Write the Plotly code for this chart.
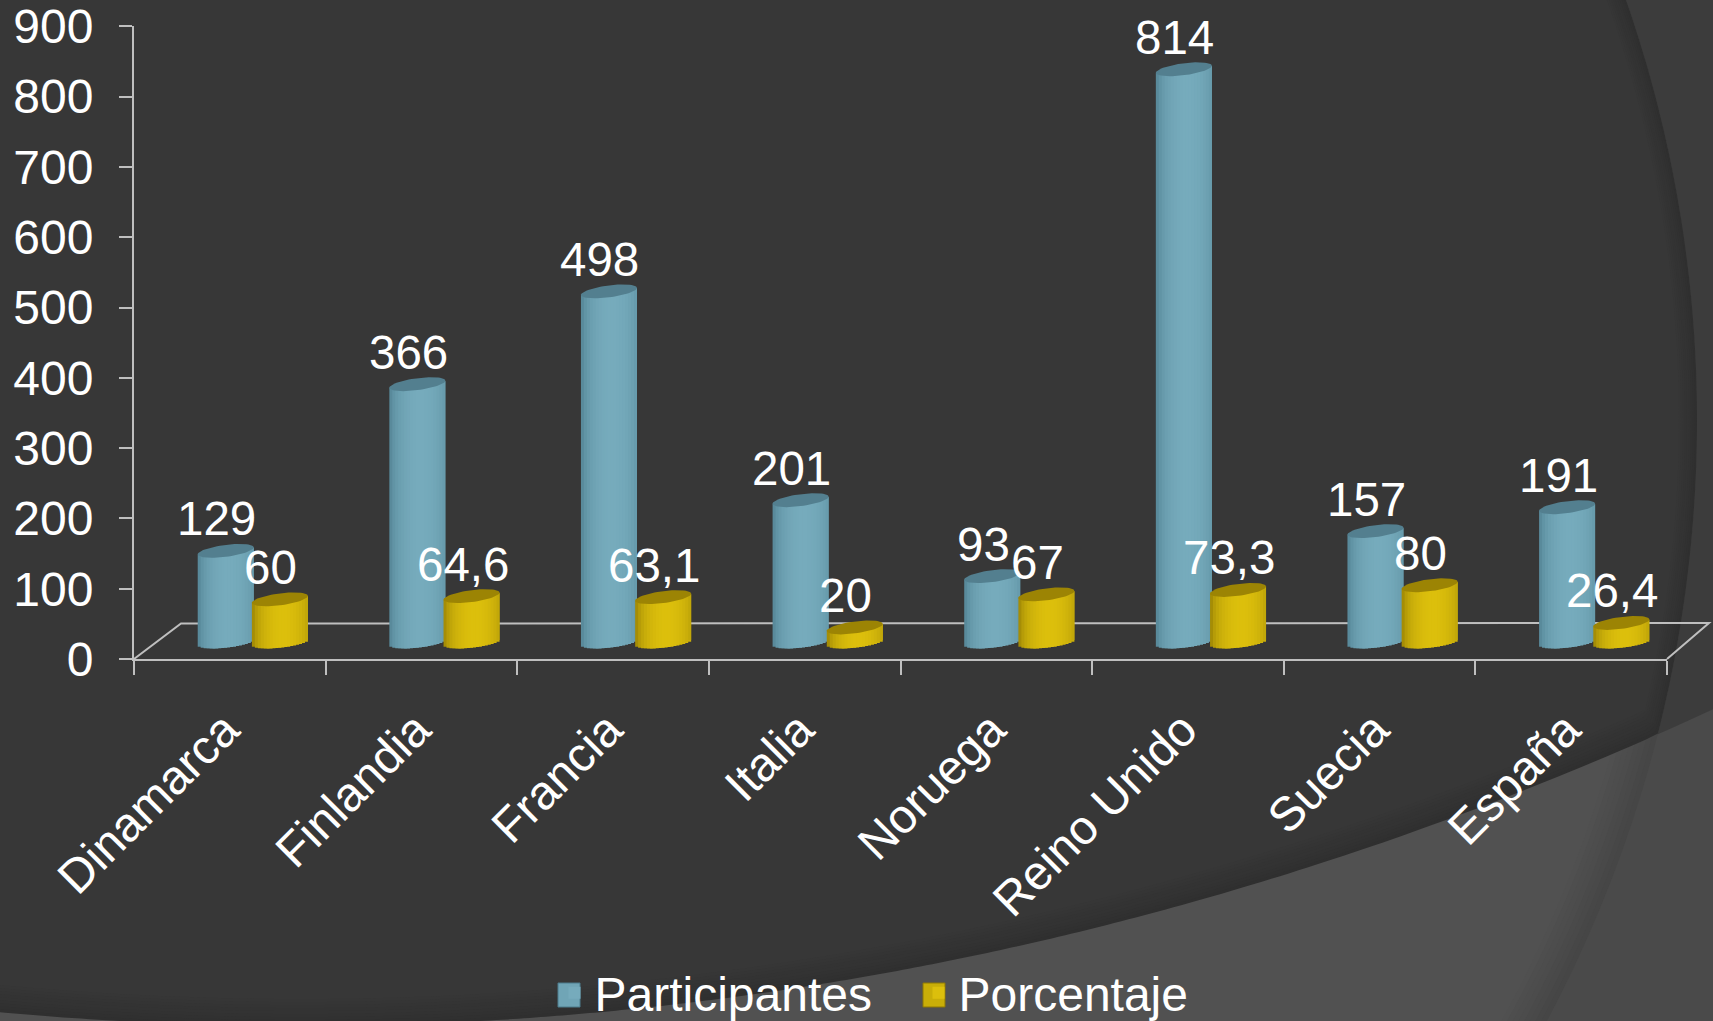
import numpy as np
import plotly.graph_objects as go

# ---- data ----
categories = ["Dinamarca", "Finlandia", "Francia", "Italia", "Noruega", "Reino Unido", "Suecia", "España"]
participantes = [129, 366, 498, 201, 93, 814, 157, 191]
porcentaje = [60, 64.6, 63.1, 20, 67, 73.3, 80, 26.4]
y_ticks = [0, 100, 200, 300, 400, 500, 600, 700, 800, 900]

W, H = 1713, 1021
FONT = "Liberation Sans, Arial, sans-serif"
px = lambda x: x / W
py = lambda y: 1 - y / H


def mix(c0, c1, f):
    return "rgb(%d,%d,%d)" % tuple(round(a + (b - a) * f) for a, b in zip(c0, c1))


def grey(v):
    return (v, v, v)


# ---- slide background ----
CC = (419, 420, 1278)            # arc circle
EC = (300, 1026 - 5090, 4069, 5090)  # big ellipse
shapes = []


def oval(cx, cy, a, b, color):
    shapes.append(dict(type="circle", xref="paper", yref="paper", layer="below",
                       x0=px(cx - a), x1=px(cx + a), y0=py(cy + b), y1=py(cy - b),
                       fillcolor=color, line=dict(width=0)))


def ray(cx, cy, a, b, ox, oy, dx, dy):
    A = (dx / a) ** 2 + (dy / b) ** 2
    B = 2 * ((ox - cx) * dx / a ** 2 + (oy - cy) * dy / b ** 2)
    C = ((ox - cx) / a) ** 2 + ((oy - cy) / b) ** 2 - 1
    return (-B + np.sqrt(B * B - 4 * A * C)) / (2 * A)


oval(EC[0], EC[1], EC[2], EC[3], "#3c3c3c")
for k in range(9):
    oval(CC[0], CC[1], CC[2] - k * 5, CC[2] - k * 5, mix(grey(0x46), grey(0x51), k / 8))
for k in range(10):
    th = np.linspace(0, 2 * np.pi, 720, endpoint=False)
    dx, dy = np.cos(th), np.sin(th)
    r1 = ray(CC[0], CC[1], CC[2] - k * 2, CC[2] - k * 2, 600, 400, dx, dy)
    r2 = ray(EC[0], EC[1], EC[2] - k * 3, EC[3] - k * 3, 600, 400, dx, dy)
    r = np.minimum(r1, r2)
    xs, ys = 600 + r * dx, 400 + r * dy
    path = "M" + "L".join(f"{px(a):.5f},{py(b):.5f}" for a, b in zip(xs, ys)) + "Z"
    shapes.append(dict(type="path", path=path, xref="paper", yref="paper", layer="below",
                       fillcolor=mix(grey(0x2f), grey(0x37), k / 9), line=dict(width=0)))

# ---- floor of the 3D box ----
AXIS = "#bfbfbf"
floor = [(134, 659), (181, 623.5), (1709, 623), (1667, 659)]
shapes.append(dict(type="path", xref="paper", yref="paper", layer="below",
                   path="M" + "L".join(f"{px(a):.5f},{py(b):.5f}" for a, b in floor),
                   line=dict(color=AXIS, width=2)))

# ---- cylinders ----
Y_PX = 632.7 / 900          # pixels per unit
CAT_PX = 1533 / 8           # pixels per category
BASE_PX = 641.5
half_w = 28 / CAT_PX
sep = 27.1 / CAT_PX
minor = 6 / Y_PX
tilt = 3.5 / Y_PX
N = 19
edges = np.linspace(-1, 1, N + 1)
mids = (edges[:-1] + edges[1:]) / 2
step = edges[1] - edges[0]

series = [
    ("Participantes", participantes, -sep, (0x4c, 0x7c, 0x8d), (0x76, 0xab, 0xbc), "#537f8f", "#70a5b6"),
    ("Porcentaje", porcentaje, sep, (0x8e, 0x78, 0x04), (0xdc, 0xbf, 0x0c), "#9c8404", "#c9ae08"),
]

fig = go.Figure()
# invisible trace that carries the category axis
fig.add_trace(go.Scatter(x=categories, y=participantes, mode="none", showlegend=False,
                         hoverinfo="skip", xaxis="x", yaxis="y"))

idx = list(range(len(categories)))
annotations = []
for name, vals, off, dark, light, top_col, key_col in series:
    for j, t in enumerate(mids):
        shade = np.sqrt(max(0, 1 - (t - 0.12) ** 2 / 1.25))
        drop = minor * np.sqrt(1 - t * t)
        # each strip runs under the next one so no seam shows between them
        strip = min(step * 2, 1 - edges[j]) * half_w
        fig.add_trace(go.Bar(
            x=idx,
            y=[v + drop for v in vals],
            base=tilt * t - drop,
            width=strip,
            offset=off + edges[j] * half_w,
            marker=dict(color=mix(dark, light, shade), line=dict(width=0)),
            name=name,
            showlegend=(j == N // 2),
            hoverinfo="skip",
            xaxis="x2", yaxis="y2",
        ))
    th = np.linspace(0, 2 * np.pi, 61)
    for i, v in enumerate(vals):
        fig.add_trace(go.Scatter(
            x=i + off + half_w * np.cos(th),
            y=v + tilt * np.cos(th) + minor * np.sin(th),
            mode="lines", fill="toself", fillcolor=top_col,
            line=dict(width=0, color=top_col),
            showlegend=False, hoverinfo="skip",
            xaxis="x2", yaxis="y2",
        ))
        annotations.append(dict(
            x=i + off, y=v, xref="x2", yref="y2", showarrow=False,
            text=str(v).replace(".", ","),
            xshift=-9, yshift=32, xanchor="center", yanchor="middle",
            font=dict(family=FONT, size=47.5, color="white"),
        ))

# legend swatches, drawn to the reference's size over the legend's own keys
for sx, col, edge in [(569, series[0][6], "#4c7c8d"), (934, series[1][6], "#8e7804")]:
    shapes.append(dict(type="rect", xref="paper", yref="paper", layer="above",
                       x0=px(sx - 11), x1=px(sx + 11), y0=py(1007), y1=py(983),
                       fillcolor=col, line=dict(color=edge, width=1)))

fig.update_layout(
    width=W, height=H,
    margin=dict(l=0, r=0, t=0, b=0, autoexpand=False),
    paper_bgcolor="#4a4a4a", plot_bgcolor="rgba(0,0,0,0)",
    barmode="overlay", shapes=shapes, annotations=annotations,
    font=dict(family=FONT, color="white", size=48),
    xaxis=dict(domain=[px(134), px(1667)], type="category", categoryorder="array",
               categoryarray=categories, range=[-0.5, 7.5], tickson="boundaries",
               tickangle=-45, ticks="outside", ticklen=14, tickwidth=2, tickcolor=AXIS,
               showline=True, linecolor=AXIS, linewidth=2, showgrid=False, zeroline=False,
               ticklabelstandoff=21, ticklabelshift=-5,
               tickfont=dict(family=FONT, size=48, color="white"),
               anchor="y", automargin=False),
    yaxis=dict(domain=[py(659), py(26.3)], range=[0, 900], tickvals=y_ticks,
               ticks="outside", ticklen=13, tickwidth=2, tickcolor=AXIS,
               showline=True, linecolor=AXIS, linewidth=2, showgrid=False, zeroline=False,
               ticklabelstandoff=16, tickfont=dict(family=FONT, size=48, color="white"),
               anchor="x", automargin=False),
    xaxis2=dict(domain=[px(157), px(1690)], range=[-0.5, 7.5], visible=False, anchor="y2"),
    yaxis2=dict(domain=[py(BASE_PX + 30 * Y_PX), py(BASE_PX - 900 * Y_PX)], range=[-30, 900],
                visible=False, anchor="x2"),
    showlegend=True,
    legend=dict(orientation="h", x=px(554.5), xanchor="left", y=py(993), yanchor="middle",
                bgcolor="rgba(0,0,0,0)", borderwidth=0, itemwidth=30,
                entrywidth=319, entrywidthmode="pixels",
                font=dict(family=FONT, size=48, color="white")),
)

fig.write_html("out.html", config=dict(displayModeBar=False), post_script=(
    "document.body.style.margin='0';document.body.style.overflow='hidden';"
    "document.body.style.background='#373737';"))
